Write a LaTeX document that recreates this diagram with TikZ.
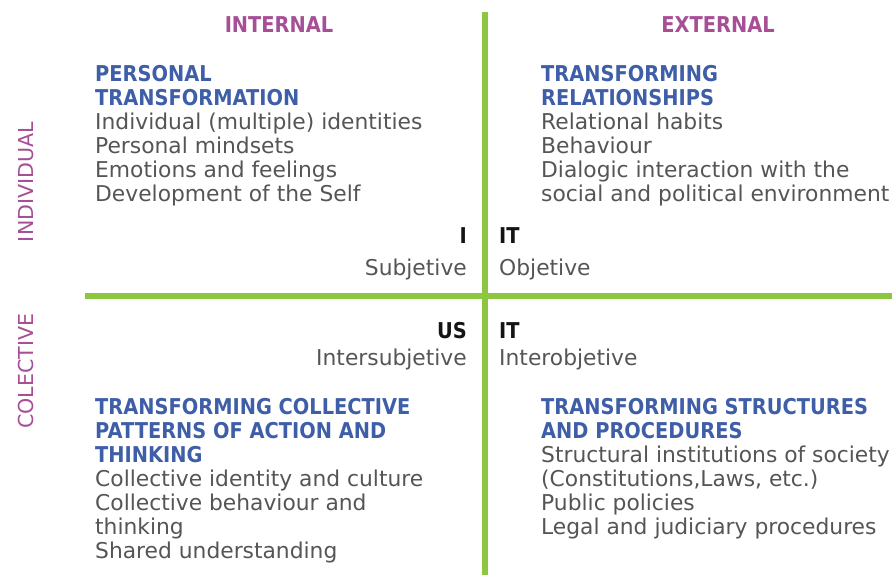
\documentclass[tikz,border=0pt]{standalone}
\usepackage{fontspec}
\setmainfont{DejaVu Sans}
\newfontfamily\headfont{DejaVu Sans}[FakeStretch=0.89]
\definecolor{quadpurple}{RGB}{166,78,150}
\definecolor{quadblue}{RGB}{63,94,168}
\definecolor{quadgray}{RGB}{85,85,85}
\definecolor{quadgreen}{RGB}{141,198,63}
\definecolor{quadblack}{RGB}{20,20,20}
\newcommand{\hd}[1]{{\color{quadblue}\headfont\bfseries #1}}
\tikzset{
  axis/.style={draw=quadgreen,line width=6pt},
  block/.style={anchor=north west,inner sep=0pt,align=left,text=quadgray,
    font=\fontsize{21.8}{24}\selectfont},
  side/.style={inner sep=0pt,text=quadpurple,font=\fontsize{21.8}{24}\selectfont\headfont\bfseries},
  axislabel/.style={inner sep=0pt,rotate=90,anchor=base,text=quadpurple,
    font=\fontsize{20.6}{24}\selectfont},
  tag/.style={inner sep=0pt,text=quadblack,font=\fontsize{21.8}{24}\selectfont\headfont\bfseries},
  kind/.style={inner sep=0pt,text=quadgray,font=\fontsize{21.8}{24}\selectfont}
}
\begin{document}
\begin{tikzpicture}[x=1pt,y=-1pt]
\useasboundingbox (0,0) rectangle (892,575);
% axes
\coordinate (top) at (485,12);
\coordinate (bottom) at (485,575);
\coordinate (left) at (85,295.5);
\coordinate (right) at (892,295.5);
\draw[axis] (top) -- (bottom);
\draw[axis] (left) -- (right);

% column and row titles
\node[side,anchor=base] (internal) at (279,33) {INTERNAL};
\node[side,anchor=base] (external) at (718,33) {EXTERNAL};
\node[axislabel] (individual) at (33,182) {INDIVIDUAL};
\node[axislabel] (collective) at (33,371) {COLECTIVE};

% quadrants
\node[block] (personal) at (95,65) {\hd{PERSONAL}\\ \hd{TRANSFORMATION}\\
  Individual (multiple) identities\\ Personal mindsets\\
  Emotions and feelings\\ Development of the Self};
\node[block] (relations) at (541,65) {\hd{TRANSFORMING}\\ \hd{RELATIONSHIPS}\\
  Relational habits\\ Behaviour\\
  Dialogic interaction with the\\ social and political environment};
\node[block] (patterns) at (95,398) {\hd{TRANSFORMING COLLECTIVE}\\
  \hd{PATTERNS OF ACTION AND}\\ \hd{THINKING}\\
  Collective identity and culture\\ Collective behaviour and\\
  thinking\\ Shared understanding};
\node[block] (structures) at (541,398) {\hd{TRANSFORMING STRUCTURES}\\
  \hd{AND PROCEDURES}\\
  Structural institutions of society\\ (Constitutions,Laws, etc.)\\
  Public policies\\ Legal and judiciary procedures};

% I / IT / US / IT
\node[tag,anchor=base east] (i) at (467,243) {I};
\node[kind,anchor=base east] (subj) at (467,275) {Subjetive};
\node[tag,anchor=base west] (it) at (499,243) {IT};
\node[kind,anchor=base west] (obj) at (499,275) {Objetive};
\node[tag,anchor=base east] (us) at (467,338) {US};
\node[kind,anchor=base east] (intersubj) at (467,365) {Intersubjetive};
\node[tag,anchor=base west] (its) at (499,338) {IT};
\node[kind,anchor=base west] (interobj) at (499,365) {Interobjetive};
\end{tikzpicture}
\end{document}
